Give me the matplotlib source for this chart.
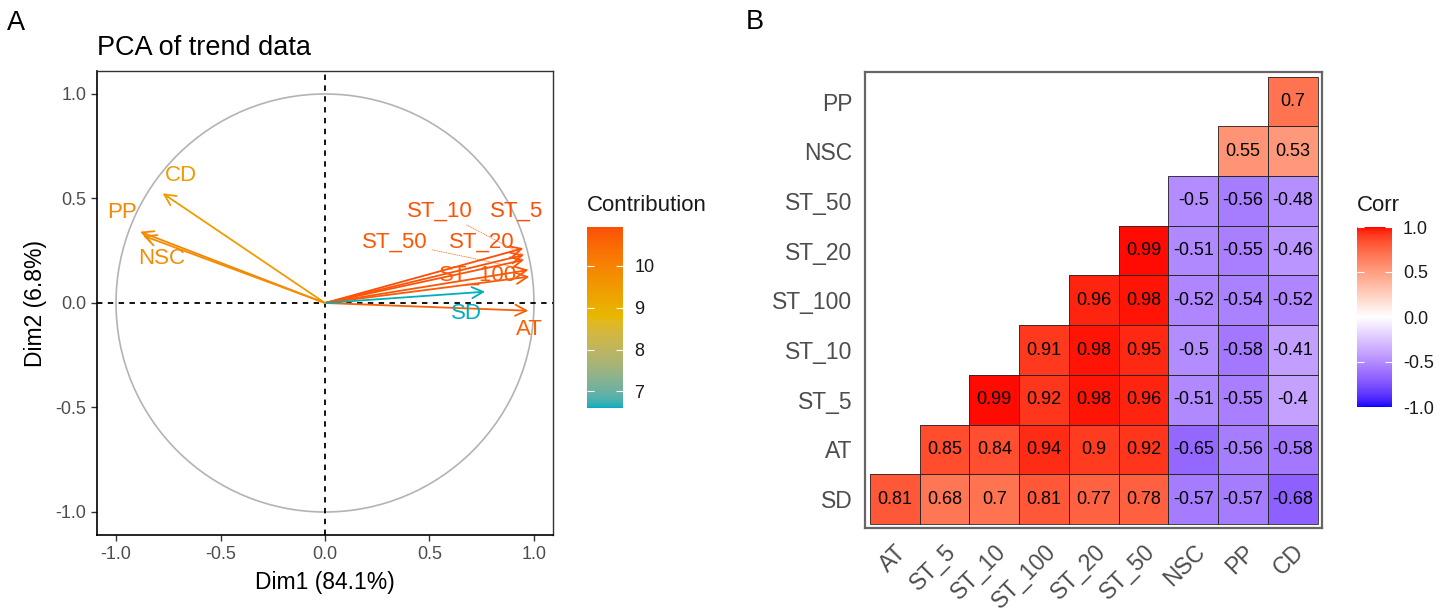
#!/usr/bin/env python3
"""PCA variable plot (A) and correlation heatmap (B) of the trend data."""

import numpy as np
import matplotlib
matplotlib.use('Agg')
import matplotlib.pyplot as plt
from matplotlib.colors import ListedColormap, Normalize, to_rgb
from matplotlib.patches import Circle, Rectangle
from matplotlib.cm import ScalarMappable

plt.rcParams['font.family'] = ['Liberation Sans', 'DejaVu Sans']

# ---- panel A data: PCA variable coordinates ----
pca_vars = ['ST_5', 'ST_10', 'ST_20', 'ST_50', 'ST_100', 'AT', 'SD', 'CD', 'PP', 'NSC']
dim1 = [0.949, 0.952, 0.952, 0.973, 0.978, 0.973, 0.766, -0.777, -0.885, -0.870]
dim2 = [0.262, 0.230, 0.206, 0.158, 0.126, -0.037, 0.054, 0.525, 0.341, 0.322]
contrib = [10.94, 10.88, 10.84, 10.80, 10.75, 10.65, 6.60, 9.45, 9.90, 9.80]
# where ggrepel put the labels
label_x = [0.919, 0.550, 0.751, 0.335, 0.732, 0.976, 0.675, -0.689, -0.971, -0.780]
label_y = [0.440, 0.440, 0.292, 0.292, 0.134, -0.129, -0.048, 0.608, 0.431, 0.215]
with_segment = ['ST_10', 'ST_20', 'ST_50']

# ---- panel B data: correlation matrix (upper triangle, no diagonal) ----
corr_cols = ['AT', 'ST_5', 'ST_10', 'ST_100', 'ST_20', 'ST_50', 'NSC', 'PP', 'CD']
corr_rows = ['SD', 'AT', 'ST_5', 'ST_10', 'ST_100', 'ST_20', 'ST_50', 'NSC', 'PP']  # bottom -> top
N = None
corr_values = [
    [0.81, 0.68, 0.70, 0.81, 0.77, 0.78, -0.57, -0.57, -0.68],
    [N, 0.85, 0.84, 0.94, 0.90, 0.92, -0.65, -0.56, -0.58],
    [N, N, 0.99, 0.92, 0.98, 0.96, -0.51, -0.55, -0.40],
    [N, N, N, 0.91, 0.98, 0.95, -0.50, -0.58, -0.41],
    [N, N, N, N, 0.96, 0.98, -0.52, -0.54, -0.52],
    [N, N, N, N, N, 0.99, -0.51, -0.55, -0.46],
    [N, N, N, N, N, N, -0.50, -0.56, -0.48],
    [N, N, N, N, N, N, N, 0.55, 0.53],
    [N, N, N, N, N, N, N, N, 0.70],
]

# ---- colour ramps interpolated in CIELAB, like ggplot2 ----
_M = np.array([[0.4124564, 0.3575761, 0.1804375],
               [0.2126729, 0.7151522, 0.0721750],
               [0.0193339, 0.1191920, 0.9503041]])
_WHITE = np.array([0.95047, 1.0, 1.08883])


def srgb_to_lab(rgb):
    rgb = np.asarray(rgb, float)
    lin = np.where(rgb <= 0.04045, rgb / 12.92, ((rgb + 0.055) / 1.055) ** 2.4)
    t = (lin @ _M.T) / _WHITE
    f = np.where(t > (6 / 29) ** 3, np.cbrt(t), t / (3 * (6 / 29) ** 2) + 4 / 29)
    return np.stack([116 * f[..., 1] - 16,
                     500 * (f[..., 0] - f[..., 1]),
                     200 * (f[..., 1] - f[..., 2])], -1)


def lab_to_srgb(lab):
    fy = (lab[..., 0] + 16) / 116
    f = np.stack([fy + lab[..., 1] / 500, fy, fy - lab[..., 2] / 200], -1)
    t = np.where(f > 6 / 29, f ** 3, 3 * (6 / 29) ** 2 * (f - 4 / 29))
    lin = np.clip((t * _WHITE) @ np.linalg.inv(_M).T, 0, 1)
    rgb = np.where(lin <= 0.0031308, 12.92 * lin, 1.055 * lin ** (1 / 2.4) - 0.055)
    return np.clip(rgb, 0, 1)


def lab_cmap(colors, n=256):
    labs = srgb_to_lab([to_rgb(c) for c in colors])
    pos = np.linspace(0, 1, len(colors))
    t = np.linspace(0, 1, n)
    out = np.stack([np.interp(t, pos, labs[:, k]) for k in range(3)], -1)
    return ListedColormap(lab_to_srgb(out))


contrib_cmap = lab_cmap(['#00AFBB', '#E7B800', '#FC4E07'])
corr_cmap = lab_cmap(['blue', 'white', 'red'])


def gg_colorbar(fig, rect, cmap, norm, ticks, labels, title):
    cax = fig.add_axes(rect)
    cb = fig.colorbar(ScalarMappable(norm=norm, cmap=cmap), cax=cax, ticks=ticks)
    cb.outline.set_visible(False)
    cax.set_yticklabels(labels)
    cax.tick_params(axis='y', direction='in', color='white', width=0.8, length=5,
                    left=True, right=True, labelleft=False, labelright=True,
                    labelsize=13, labelcolor='#1A1A1A', pad=8)
    cax.text(0, 1.06, title, transform=cax.transAxes, fontsize=16,
             ha='left', va='bottom', color='#1A1A1A')
    return cb


W, H = 1452, 612
fig = plt.figure(figsize=(W / 100, H / 100), dpi=100)

# ================= Panel A =================
ax = fig.add_axes([96.8 / W, 1 - 535.4 / H, 456.2 / W, 464.4 / H])
ax.set_xlim(-1.092, 1.091)
ax.set_ylim(-1.112, 1.110)
ax.add_patch(Circle((0, 0), 1, fill=False, color='#B3B3B3', lw=1.2, zorder=1))
ax.axhline(0, color='black', ls=(0, (3, 3)), lw=1.3, zorder=1)
ax.axvline(0, color='black', ls=(0, (3, 3)), lw=1.3, zorder=1)

cnorm = Normalize(vmin=min(contrib), vmax=max(contrib))
for name, x, y, c, lx, ly in zip(pca_vars, dim1, dim2, contrib, label_x, label_y):
    col = contrib_cmap(cnorm(c))
    ax.annotate('', xy=(x, y), xytext=(0, 0),
                arrowprops=dict(arrowstyle='->,head_length=0.8,head_width=0.4',
                                color=col, lw=1.3, shrinkA=0, shrinkB=0), zorder=3)
    if name in with_segment:
        ax.annotate(name, xy=(x, y), xytext=(lx, ly), fontsize=16, color=col,
                    ha='center', va='center', zorder=4,
                    arrowprops=dict(arrowstyle='-', color=col, lw=0.5, ls=':',
                                    shrinkA=1, shrinkB=0))
    else:
        ax.text(lx, ly, name, fontsize=16, color=col, ha='center', va='center', zorder=4)

ticks = [-1.0, -0.5, 0.0, 0.5, 1.0]
ax.set_xticks(ticks)
ax.set_yticks(ticks)
ax.set_xticklabels([f'{t:.1f}' for t in ticks])
ax.set_yticklabels([f'{t:.1f}' for t in ticks])
ax.tick_params(labelsize=13, labelcolor='#4D4D4D', length=4, width=1, color='#333333')
ax.set_xlabel('Dim1 (84.1%)', fontsize=16.5, labelpad=6)
ax.set_ylabel('Dim2 (6.8%)', fontsize=16.5, labelpad=6)
for side in ['left', 'bottom']:
    ax.spines[side].set_color('black')
    ax.spines[side].set_linewidth(1.2)
for side in ['top', 'right']:
    ax.spines[side].set_color('#333333')
    ax.spines[side].set_linewidth(1.0)

fig.text(96.8 / W, 1 - 55 / H, 'PCA of trend data', fontsize=19.5, ha='left', va='baseline')
fig.text(16 / W, 1 - 23 / H, 'A', fontsize=19.5, ha='center', va='center')

gg_colorbar(fig, [587.3 / W, 1 - 408 / H, 36 / W, 181.3 / H], contrib_cmap, cnorm,
            [7, 8, 9, 10], ['7', '8', '9', '10'], 'Contribution')

# ================= Panel B =================
bx = fig.add_axes([865 / W, 1 - 528 / H, 456.7 / W, 456.3 / H])
vals = np.ma.masked_invalid(np.array([[np.nan if v is None else v for v in row]
                                      for row in corr_values], float))
bx.pcolormesh(np.arange(len(corr_cols) + 1), np.arange(len(corr_rows) + 1), vals,
              cmap=corr_cmap, vmin=-1, vmax=1, edgecolors='none')
for i, row in enumerate(corr_values):
    for j, v in enumerate(row):
        if v is None:
            continue
        bx.add_patch(Rectangle((j, i), 1, 1, fill=False, edgecolor='#262626',
                               lw=0.6, zorder=2))
        bx.text(j + 0.5, i + 0.5, f'{v:g}', fontsize=13, ha='center', va='center',
                color='black', zorder=3)
bx.set_xlim(-0.1, 9.08)
bx.set_ylim(-0.08, 9.1)
bx.set_xticks(np.arange(len(corr_cols)) + 0.5)
bx.set_yticks(np.arange(len(corr_rows)) + 0.5)
bx.set_xticklabels(corr_cols, rotation=45, ha='right', va='top', rotation_mode='anchor')
bx.set_yticklabels(corr_rows)
bx.tick_params(length=0, labelsize=16.5, labelcolor='#4D4D4D', pad=9)
for s in bx.spines.values():
    s.set_color('#666666')
    s.set_linewidth(1.6)

fig.text(755 / W, 1 - 22 / H, 'B', fontsize=19.5, ha='center', va='center')

gg_colorbar(fig, [1356.7 / W, 1 - 407 / H, 35.3 / W, 180 / H], corr_cmap,
            Normalize(-1, 1), [-1, -0.5, 0, 0.5, 1],
            ['-1.0', '-0.5', '0.0', '0.5', '1.0'], 'Corr')

fig.savefig('out.png', dpi=100)
